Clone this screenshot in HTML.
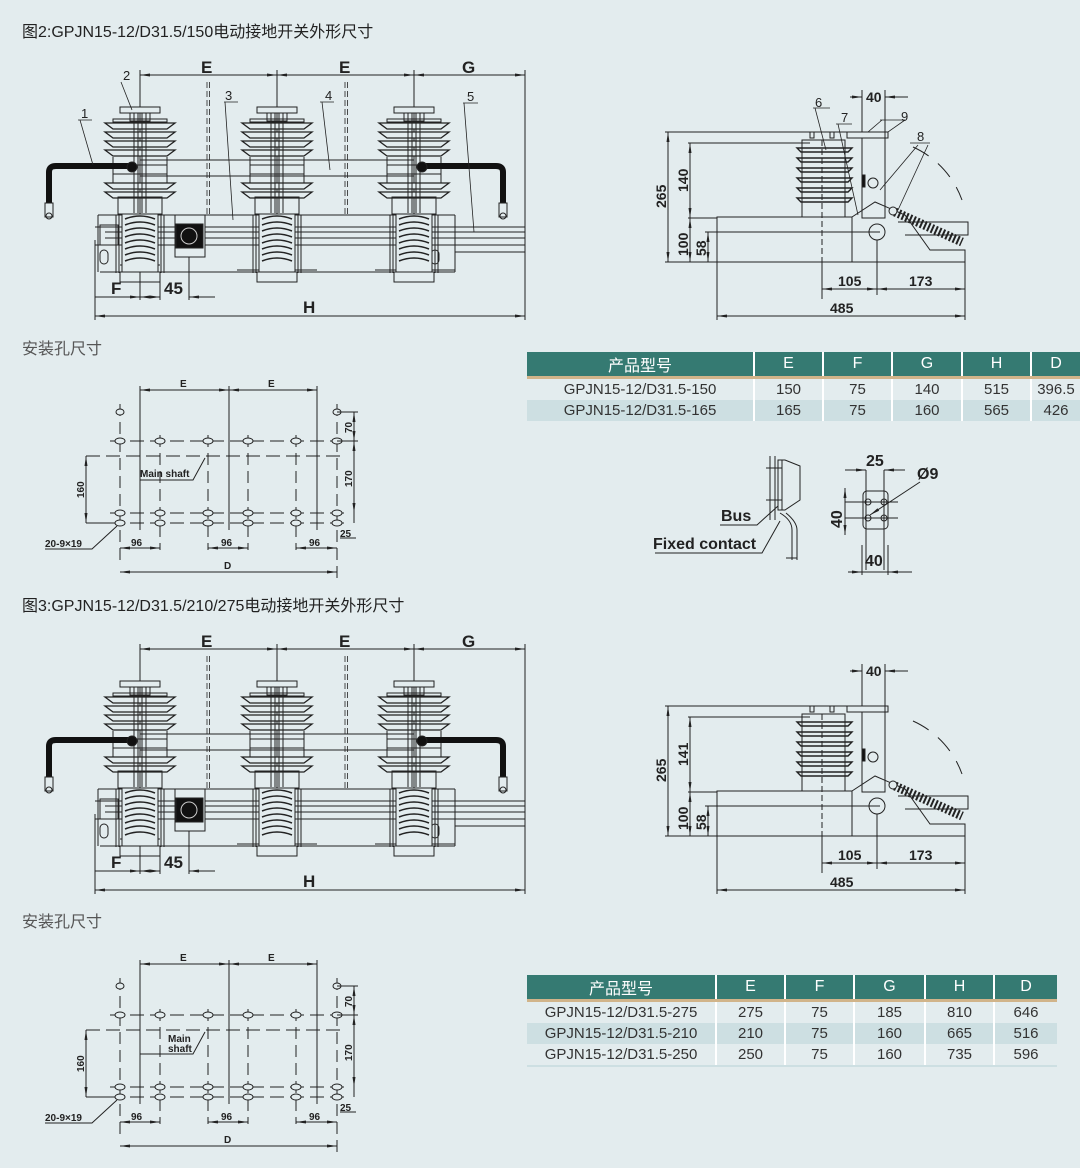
<!DOCTYPE html>
<html><head><meta charset="utf-8"><style>
html,body{margin:0;padding:0;background:#e3ecee;}
body{width:1080px;height:1168px;overflow:hidden;position:relative;font-family:"Liberation Sans","Noto Sans CJK SC",sans-serif;}
.t{position:absolute;font-size:16px;color:#222;white-space:nowrap;}
.s{position:absolute;font-size:16px;color:#555;white-space:nowrap;}
table{position:absolute;border-collapse:collapse;font-family:"Liberation Sans","Noto Sans CJK SC",sans-serif;font-size:15px;color:#333;}
th{background:#357a72;color:#fff;font-weight:normal;border-left:2px solid #fff;border-bottom:3px solid #d1b48a;padding:0;height:21px;font-size:16px;}
th:first-child{border-left:none}
td{text-align:center;padding:0;border-left:2px solid #fff;height:21px;}
td:first-child{border-left:none}
tr.a td{background:#e3ecee}
tr.b td{background:#cddfe2}
svg text{font-family:"Liberation Sans",sans-serif;font-weight:bold;fill:#222;}
svg text.n{font-weight:normal}
</style></head><body>
<div class="t" style="left:22px;top:18px">图2:GPJN15-12/D31.5/150电动接地开关外形尺寸</div>
<div class="s" style="left:22px;top:335px">安装孔尺寸</div>
<div class="t" style="left:22px;top:592px">图3:GPJN15-12/D31.5/210/275电动接地开关外形尺寸</div>
<div class="s" style="left:22px;top:908px">安装孔尺寸</div>

<svg width="1080" height="1168" style="position:absolute;left:0;top:0" xmlns="http://www.w3.org/2000/svg">
<defs>
<marker id="ar" viewBox="0 0 10 6" refX="10" refY="3" markerWidth="10" markerHeight="6" orient="auto-start-reverse"><path d="M0,1.5L10,3L0,4.5z" fill="#222"/></marker>
<g id="ins" stroke="#222" fill="none" stroke-width="1">
 <rect x="-20" y="0" width="40" height="6" fill="#e3ecee"/>
 <rect x="-10" y="6" width="20" height="8"/>
 <rect x="-27" y="12" width="54" height="3"/>
 <path d="M-35,16h70l-8,6h-54z M-35,25h70l-8,6h-54z M-35,34h70l-8,6h-54z M-35,43h70l-8,6h-54z M-35,76h70l-8,6h-54z M-35,85h70l-8,6h-54z" fill="#e3ecee" stroke-width="1.3"/>
 <path d="M-27,50 v26 M27,50 v26 M-27,58h54 M-27,67h54"/>
 <rect x="-22" y="90" width="44" height="17"/>
 <path d="M-6,6v100 M6,6v100 M-2,6v100 M2,6v100"/>
 <rect x="-18" y="107" width="36" height="58" fill="#e3ecee"/>
 <path d="M-15,112q15,-6 30,0 M-15,118q15,-6 30,0 M-15,124q15,-6 30,0 M-15,130q15,-6 30,0 M-15,136q15,-6 30,0 M-15,142q15,-6 30,0 M-15,148q15,-6 30,0 M-15,154q15,-6 30,0" stroke-width="1.5"/>
 <path d="M-24,108v58 M24,108v58 M-21,108v58 M21,108v58"/>
 <rect x="-20" y="165" width="40" height="10"/>
</g>
<g id="front" stroke="#222" fill="none" stroke-width="1">
 <line x1="140" y1="75" x2="277" y2="75" marker-start="url(#ar)" marker-end="url(#ar)"/>
 <line x1="277" y1="75" x2="414" y2="75" marker-start="url(#ar)" marker-end="url(#ar)"/>
 <line x1="414" y1="75" x2="525" y2="75" marker-start="url(#ar)" marker-end="url(#ar)"/>
 <path d="M140,70V215 M277,70V215 M414,70V215 M525,70V320 M95,240V320 M140,272V300 M160,272V300 M189,255V300"/>
 <line x1="95" y1="316" x2="525" y2="316" marker-start="url(#ar)" marker-end="url(#ar)"/>
 <line x1="95" y1="297" x2="140" y2="297" marker-end="url(#ar)"/>
 <line x1="140" y1="297" x2="160" y2="297" marker-start="url(#ar)" marker-end="url(#ar)"/>
 <line x1="189" y1="297" x2="215" y2="297" marker-start="url(#ar)"/>
 <path d="M207,82V215 M209.5,82V215 M345,82V215 M347.5,82V215" stroke-dasharray="6,3" stroke-width="0.8"/>
 <path d="M98,215H455 M98,215V272 M455,215V272 M100,272H455 M95,227H525 M95,245H525 M105,232H525 M105,238H525 M455,252H525 M120,265H160 M237,270H317 M375,270H455"/>
 <rect x="100" y="225" width="18" height="20"/>
 <rect x="100" y="250" width="8" height="14" rx="4"/>
 <rect x="431" y="250" width="8" height="14" rx="4"/>
 <rect x="175" y="215" width="30" height="42" fill="#e3ecee"/>
 <rect x="176" y="224" width="27" height="24" fill="#111"/>
 <circle cx="189" cy="236" r="8" stroke="#ccc"/>
 <use href="#ins" x="140" y="107"/>
 <use href="#ins" x="277" y="107"/>
 <use href="#ins" x="414" y="107"/>
 <path d="M140,160H414 M140,176H414"/>
 <path d="M49,205V172Q49,166 56,166H132" stroke="#111" stroke-width="6"/>
 <path d="M503,205V172Q503,166 496,166H422" stroke="#111" stroke-width="6"/>
 <circle cx="132" cy="167" r="5" fill="#111"/><circle cx="422" cy="167" r="5" fill="#111"/>
 <rect x="45" y="203" width="8" height="14" fill="#e3ecee"/><circle cx="49" cy="216" r="3"/>
 <rect x="499" y="203" width="8" height="14" fill="#e3ecee"/><circle cx="503" cy="216" r="3"/>
</g>
<g id="side" stroke="#222" fill="none" stroke-width="1">
 <path d="M862,90V132 M885,90V138"/>
 <line x1="850" y1="97" x2="862" y2="97" marker-end="url(#ar)"/>
 <line x1="897" y1="97" x2="885" y2="97" marker-end="url(#ar)"/>
 <line x1="885" y1="97" x2="908" y2="97"/>
 <path d="M665,132H850 M688,143H810 M688,218H717 M705,232H880 M665,262H717 M717,262V320 M822,262V295 M877,240V295 M965,262V320"/>
 <line x1="668" y1="132" x2="668" y2="262" marker-start="url(#ar)" marker-end="url(#ar)"/>
 <line x1="690" y1="143" x2="690" y2="218" marker-start="url(#ar)" marker-end="url(#ar)"/>
 <line x1="690" y1="218" x2="690" y2="262" marker-start="url(#ar)" marker-end="url(#ar)"/>
 <line x1="708" y1="232" x2="708" y2="262" marker-start="url(#ar)" marker-end="url(#ar)"/>
 <line x1="822" y1="289" x2="877" y2="289" marker-start="url(#ar)" marker-end="url(#ar)"/>
 <line x1="877" y1="289" x2="965" y2="289" marker-start="url(#ar)" marker-end="url(#ar)"/>
 <line x1="717" y1="316" x2="965" y2="316" marker-start="url(#ar)" marker-end="url(#ar)"/>
 <rect x="717" y="217" width="135" height="45"/>
 <path d="M852,217L875,202 L905,215 L930,250 L965,250 V262 H852Z"/>
 <rect x="810" y="132" width="4" height="6"/><rect x="830" y="132" width="4" height="6"/>
 <path d="M797,148h55l-4,4h-47z M797,158h55l-4,4h-47z M797,168h55l-4,4h-47z M797,178h55l-4,4h-47z M797,188h55l-4,4h-47z M797,198h55l-4,4h-47z" fill="#e3ecee" stroke-width="1.4"/>
 <path d="M802,140h43v62h-43z"/>
 <rect x="802" y="202" width="43" height="15"/>
 <path d="M822,140V300" stroke-dasharray="6,3"/>
 <rect x="847" y="132" width="41" height="6"/>
 <rect x="862" y="138" width="23" height="80"/>
 <rect x="862" y="175" width="3" height="12" fill="#111"/>
 <circle cx="873" cy="183" r="5"/>
 <circle cx="877" cy="232" r="8"/>
 <path d="M913,147A92,92 0 0 1 962,200" stroke-dasharray="18,12"/>
 <path d="M895,212L962,242" stroke="#222" stroke-width="9" stroke-dasharray="2,2"/>
 <circle cx="893" cy="211" r="4" fill="#e3ecee"/>
 <path d="M898,222H968V235H905"/>
</g>
<g id="holes" stroke="#222" fill="none" stroke-width="1">
 <line x1="140" y1="390" x2="229" y2="390" marker-start="url(#ar)" marker-end="url(#ar)"/>
 <line x1="229" y1="390" x2="317" y2="390" marker-start="url(#ar)" marker-end="url(#ar)"/>
 <path d="M140,386V530 M229,386V530 M317,386V530"/>
 <path d="M110,441H345 M86,456H345 M110,513H350 M110,523H350" stroke-dasharray="14,6"/>
 <path d="M120,404V565 M160,435V550 M208,435V550 M248,435V550 M296,435V550 M337,404V580" stroke-dasharray="12,6"/>
 <g fill="#e3ecee">
  <ellipse cx="120" cy="412" rx="4" ry="3"/><ellipse cx="337" cy="412" rx="4" ry="3"/>
  <ellipse cx="120" cy="441" rx="5" ry="3"/><ellipse cx="160" cy="441" rx="5" ry="3"/><ellipse cx="208" cy="441" rx="5" ry="3"/><ellipse cx="248" cy="441" rx="5" ry="3"/><ellipse cx="296" cy="441" rx="5" ry="3"/><ellipse cx="337" cy="441" rx="5" ry="3"/>
  <ellipse cx="120" cy="513" rx="5" ry="3"/><ellipse cx="160" cy="513" rx="5" ry="3"/><ellipse cx="208" cy="513" rx="5" ry="3"/><ellipse cx="248" cy="513" rx="5" ry="3"/><ellipse cx="296" cy="513" rx="5" ry="3"/><ellipse cx="337" cy="513" rx="5" ry="3"/>
  <ellipse cx="120" cy="523" rx="5" ry="3"/><ellipse cx="160" cy="523" rx="5" ry="3"/><ellipse cx="208" cy="523" rx="5" ry="3"/><ellipse cx="248" cy="523" rx="5" ry="3"/><ellipse cx="296" cy="523" rx="5" ry="3"/><ellipse cx="337" cy="523" rx="5" ry="3"/>
 </g>
 <line x1="86" y1="456" x2="86" y2="523" marker-start="url(#ar)" marker-end="url(#ar)"/>
 <path d="M86,523H115 M337,412H358 M337,441H358"/>
 <line x1="354" y1="412" x2="354" y2="441" marker-start="url(#ar)" marker-end="url(#ar)"/>
 <line x1="354" y1="441" x2="354" y2="513" marker-start="url(#ar)" marker-end="url(#ar)"/>
 <line x1="354" y1="513" x2="354" y2="523" />
 <line x1="120" y1="548" x2="160" y2="548" marker-start="url(#ar)" marker-end="url(#ar)"/>
 <line x1="208" y1="548" x2="248" y2="548" marker-start="url(#ar)" marker-end="url(#ar)"/>
 <line x1="296" y1="548" x2="337" y2="548" marker-start="url(#ar)" marker-end="url(#ar)"/>
 <line x1="120" y1="572" x2="337" y2="572" marker-start="url(#ar)" marker-end="url(#ar)"/>
 <path d="M45,549H92L117,526 M140,480H193L205,458 M340,538H356"/>
</g>
</defs>

<use href="#front"/>
<use href="#side"/>
<use href="#holes"/>
<use href="#front" y="574"/>
<use href="#side" y="574"/>
<use href="#holes" y="574"/>

<!-- leaders fig2 only -->
<g stroke="#222" fill="none" stroke-width="0.8">
 <path d="M78,120H92 M80,120L93,165 M121,82L132,110 M224,102H238 M225,102L233,220 M320,102H334 M322,102L330,170 M463,103H478 M464,103L474,232"/>
 <path d="M813,108H830 M815,108L826,150 M836,124H852 M838,124L858,215 M880,120H905 M882,120L868,132 M905,120L888,132 M910,143H930 M928,145L898,210 M918,145L880,190"/>
</g>

<g font-size="17">
<text x="201" y="73">E</text><text x="339" y="73">E</text><text x="462" y="73">G</text>
<text x="111" y="294">F</text><text x="164" y="294">45</text><text x="303" y="313">H</text>
<text x="201" y="647">E</text><text x="339" y="647">E</text><text x="462" y="647">G</text>
<text x="111" y="868">F</text><text x="164" y="868">45</text><text x="303" y="887">H</text>
</g>
<g font-size="13">
<text class="n" x="81" y="118">1</text><text class="n" x="123" y="80">2</text><text class="n" x="225" y="100">3</text><text class="n" x="325" y="100">4</text><text class="n" x="467" y="101">5</text>
<text class="n" x="815" y="107">6</text><text class="n" x="841" y="122">7</text><text class="n" x="901" y="121">9</text><text class="n" x="917" y="141">8</text>
</g>
<g font-size="14">
<text x="866" y="102">40</text><text x="838" y="286">105</text><text x="909" y="286">173</text><text x="830" y="313">485</text>
<text transform="translate(666,208) rotate(-90)">265</text><text transform="translate(688,192) rotate(-90)">140</text>
<text transform="translate(688,256) rotate(-90)">100</text><text transform="translate(706,256) rotate(-90)">58</text>
<text x="866" y="676">40</text><text x="838" y="860">105</text><text x="909" y="860">173</text><text x="830" y="887">485</text>
<text transform="translate(666,782) rotate(-90)">265</text><text transform="translate(688,766) rotate(-90)">141</text>
<text transform="translate(688,830) rotate(-90)">100</text><text transform="translate(706,830) rotate(-90)">58</text>
</g>
<g font-size="10">
<text x="180" y="387">E</text><text x="268" y="387">E</text>
<text x="140" y="477">Main shaft</text>
<text transform="translate(84,498) rotate(-90)">160</text>
<text transform="translate(352,433) rotate(-90)">70</text>
<text transform="translate(352,487) rotate(-90)">170</text>
<text x="340" y="537">25</text>
<text x="45" y="547">20-9×19</text>
<text x="131" y="546">96</text><text x="221" y="546">96</text><text x="309" y="546">96</text>
<text x="224" y="569">D</text>
<text x="180" y="961">E</text><text x="268" y="961">E</text>
<text x="168" y="1042">Main</text><text x="168" y="1052">shaft</text>
<text transform="translate(84,1072) rotate(-90)">160</text>
<text transform="translate(352,1007) rotate(-90)">70</text>
<text transform="translate(352,1061) rotate(-90)">170</text>
<text x="340" y="1111">25</text>
<text x="45" y="1121">20-9×19</text>
<text x="131" y="1120">96</text><text x="221" y="1120">96</text><text x="309" y="1120">96</text>
<text x="224" y="1143">D</text>
</g>

<g stroke="#222" fill="none" stroke-width="1">
 <path d="M770,456V520 M775,456V520 M766,468H782 M766,500H782 M778,460H785L800,466V500L785,510H778Z M782,460V510"/>
 <path d="M780,513Q792,520 792,530V560 M786,513Q797,522 797,530V560 M786,558H797"/>
 <path d="M720,525H757L778,506 M655,553H762L780,521"/>
 <rect x="863" y="491" width="25" height="38" rx="4"/>
 <circle cx="868" cy="502" r="3"/><circle cx="884" cy="502" r="3"/><circle cx="868" cy="518" r="3"/><circle cx="884" cy="518" r="3"/>
 <path d="M866,470V570 M884,470V570 M845,502H898 M845,518H898"/>
 <line x1="845" y1="470" x2="866" y2="470" marker-end="url(#ar)"/><line x1="905" y1="470" x2="884" y2="470" marker-end="url(#ar)"/>
 <line x1="848" y1="572" x2="862" y2="572" marker-end="url(#ar)"/><line x1="912" y1="572" x2="888" y2="572" marker-end="url(#ar)"/>
 <path d="M862,572H888 M862,545V575 M888,545V575"/>
 <line x1="845" y1="488" x2="845" y2="535" marker-start="url(#ar)" marker-end="url(#ar)"/>
 <line x1="920" y1="482" x2="870" y2="515" marker-end="url(#ar)"/>
</g>
<text x="866" y="466" font-size="16">25</text><text x="917" y="479" font-size="16">Ø9</text>
<text x="865" y="566" font-size="16">40</text>
<text transform="translate(842,528) rotate(-90)" font-size="16">40</text>
<text x="721" y="521" font-size="16">Bus</text>
<text x="653" y="549" font-size="16">Fixed contact</text>
</svg>

<table style="left:527px;top:352px;width:553px">
<tr><th style="width:226px">产品型号</th><th style="width:67px">E</th><th style="width:67px">F</th><th style="width:68px">G</th><th style="width:67px">H</th><th>D</th></tr>
<tr class="a"><td>GPJN15-12/D31.5-150</td><td>150</td><td>75</td><td>140</td><td>515</td><td>396.5</td></tr>
<tr class="b"><td>GPJN15-12/D31.5-165</td><td>165</td><td>75</td><td>160</td><td>565</td><td>426</td></tr>
</table>
<table style="left:527px;top:975px;width:530px">
<tr><th style="width:188px">产品型号</th><th style="width:67px">E</th><th style="width:67px">F</th><th style="width:69px">G</th><th style="width:67px">H</th><th>D</th></tr>
<tr class="a"><td>GPJN15-12/D31.5-275</td><td>275</td><td>75</td><td>185</td><td>810</td><td>646</td></tr>
<tr class="b"><td>GPJN15-12/D31.5-210</td><td>210</td><td>75</td><td>160</td><td>665</td><td>516</td></tr>
<tr class="a"><td style="border-bottom:2px solid #cddfe2">GPJN15-12/D31.5-250</td><td style="border-bottom:2px solid #cddfe2">250</td><td style="border-bottom:2px solid #cddfe2">75</td><td style="border-bottom:2px solid #cddfe2">160</td><td style="border-bottom:2px solid #cddfe2">735</td><td style="border-bottom:2px solid #cddfe2">596</td></tr>
</table>
</body></html>
